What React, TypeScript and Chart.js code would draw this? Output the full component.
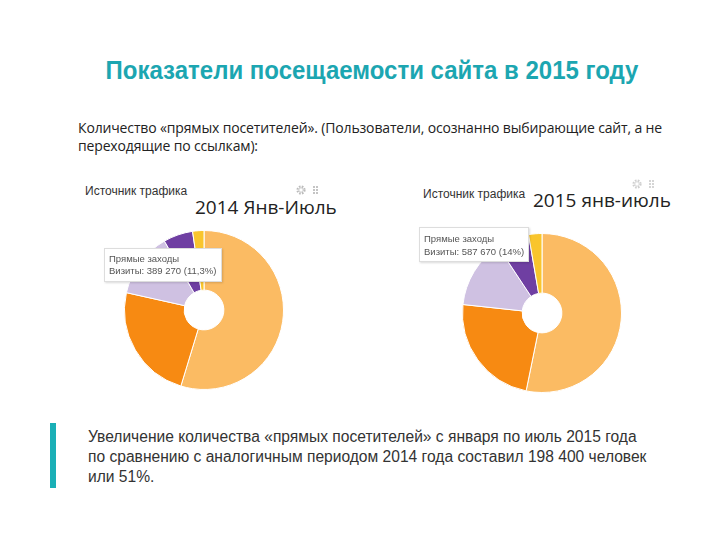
import React, { useEffect, useRef } from "react";
import { Chart, registerables } from "chart.js";

Chart.register(...registerables);

const sources = ["Поисковые системы", "Переходы по ссылкам", "Прямые заходы", "Социальные сети", "Другое"];
const share2014 = [54.7, 23.8, 13.2, 6.0, 2.3];
const share2015 = [53.2, 23.5, 14.0, 6.6, 2.7];
const sliceColors = ["#FBBB63", "#F78A12", "#CFC1E2", "#6F3FA2", "#F9C52C"];

const titleText = "Показатели посещаемости сайта в 2015 году";
const introLines = [
  "Количество «прямых посетителей». (Пользователи, осознанно выбирающие сайт, а не",
  "переходящие по ссылкам):",
];
const summaryLines = [
  "Увеличение количества «прямых посетителей» с января по июль 2015 года",
  "по сравнению с аналогичным периодом 2014 года составил 198 400 человек",
  "или 51%.",
];

function Donut({ values, left, top, size }: { values: number[]; left: number; top: number; size: number }) {
  const ref = useRef<HTMLCanvasElement | null>(null);
  useEffect(() => {
    if (!ref.current) return;
    const chart = new Chart(ref.current, {
      type: "doughnut",
      data: {
        labels: sources,
        datasets: [
          {
            data: values,
            backgroundColor: sliceColors,
            borderColor: "#ffffff",
            borderWidth: 1,
            hoverOffset: 0,
            offset: 0,
          },
        ],
      },
      options: {
        animation: false,
        responsive: false,
        cutout: "25%",
        layout: { padding: 0 },
        plugins: { legend: { display: false }, tooltip: { enabled: false }, title: { display: false } },
        events: [],
      },
    });
    return () => chart.destroy();
  }, []);
  return (
    <canvas
      ref={ref}
      width={size}
      height={size}
      style={{ position: "absolute", left, top, width: size, height: size }}
    />
  );
}

function Icons({ left, top, opacity }: { left: number; top: number; opacity: number }) {
  return (
    <svg width={30} height={12} style={{ position: "absolute", left, top, opacity }}>
      <circle cx={5} cy={6} r={3.5} fill="none" stroke="#bbb" strokeWidth={2.2} strokeDasharray="1.6 1.2" />
      <circle cx={5} cy={6} r={2.2} fill="none" stroke="#ccc" strokeWidth={1} />
      {[0, 1, 2].map((r) =>
        [0, 1].map((c) => <rect key={`${r}-${c}`} x={17 + c * 3} y={2 + r * 3} width={2} height={2} fill="#c4c4c4" />)
      )}
    </svg>
  );
}

const abs = (o: React.CSSProperties): React.CSSProperties => ({ position: "absolute", whiteSpace: "nowrap", ...o });

export default function App() {
  const smallFont = "'Liberation Sans', Arial, sans-serif";
  const calibriLike = "'Open Sans', 'Noto Sans', sans-serif";
  return (
    <div style={{ position: "relative", width: 720, height: 540, margin: -8, background: "#fff", overflow: "hidden" }}>
      <div style={abs({ left: 0, width: 744, top: 56, textAlign: "center", fontFamily: smallFont, fontWeight: "bold", fontSize: 24, color: "#1CA6B1", transform: "scaleY(1.1)" })}>
        {titleText}
      </div>
      {introLines.map((t, i) => (
        <div key={i} style={abs({ left: 78, top: 118 + i * 18, fontFamily: calibriLike, fontSize: 14, color: "#222", letterSpacing: -0.15 })}>
          {t}
        </div>
      ))}

      {/* Chart 2014 */}
      <div style={abs({ left: 85, top: 184, fontFamily: smallFont, fontSize: 12, color: "#333" })}>Источник трафика</div>
      <Icons left={296} top={184} opacity={1} />
      <div style={abs({ left: 195, top: 194, fontFamily: calibriLike, fontSize: 19, color: "#222" })}>2014 Янв-Июль</div>
      <Donut values={share2014} left={124} top={230} size={160} />
      <div style={abs({ left: 104, top: 248, width: 118, height: 34, background: "#fff", border: "1px solid #ddd", boxShadow: "1px 1px 2px rgba(0,0,0,0.15)", fontFamily: smallFont, fontSize: 9.5, color: "#555", lineHeight: "12px", padding: "4px 0 0 4px", boxSizing: "border-box" })}>
        Прямые заходы
        <br />
        Визиты: 389 270 (11,3%)
      </div>

      {/* Chart 2015 */}
      <div style={abs({ left: 423, top: 187, fontFamily: smallFont, fontSize: 12, color: "#333" })}>Источник трафика</div>
      <Icons left={632} top={178} opacity={0.7} />
      <div style={abs({ left: 533, top: 187, fontFamily: calibriLike, fontSize: 19, color: "#222" })}>2015 янв-июль</div>
      <Donut values={share2015} left={462} top={233} size={160} />
      <div style={abs({ left: 419, top: 227, width: 110, height: 35, background: "#fff", border: "1px solid #ddd", boxShadow: "1px 1px 2px rgba(0,0,0,0.15)", fontFamily: smallFont, fontSize: 9.5, color: "#555", lineHeight: "13px", padding: "4px 0 0 4px", boxSizing: "border-box" })}>
        Прямые заходы
        <br />
        Визиты: 587 670 (14%)
      </div>

      {/* Summary */}
      <div style={abs({ left: 50, top: 423, width: 6, height: 65, background: "#1AAFB6" })} />
      {summaryLines.map((t, i) => (
        <div key={i} style={abs({ left: 88, top: 428 + i * 20, fontFamily: smallFont, fontSize: 15.6, color: "#333" })}>
          {t}
        </div>
      ))}
    </div>
  );
}
